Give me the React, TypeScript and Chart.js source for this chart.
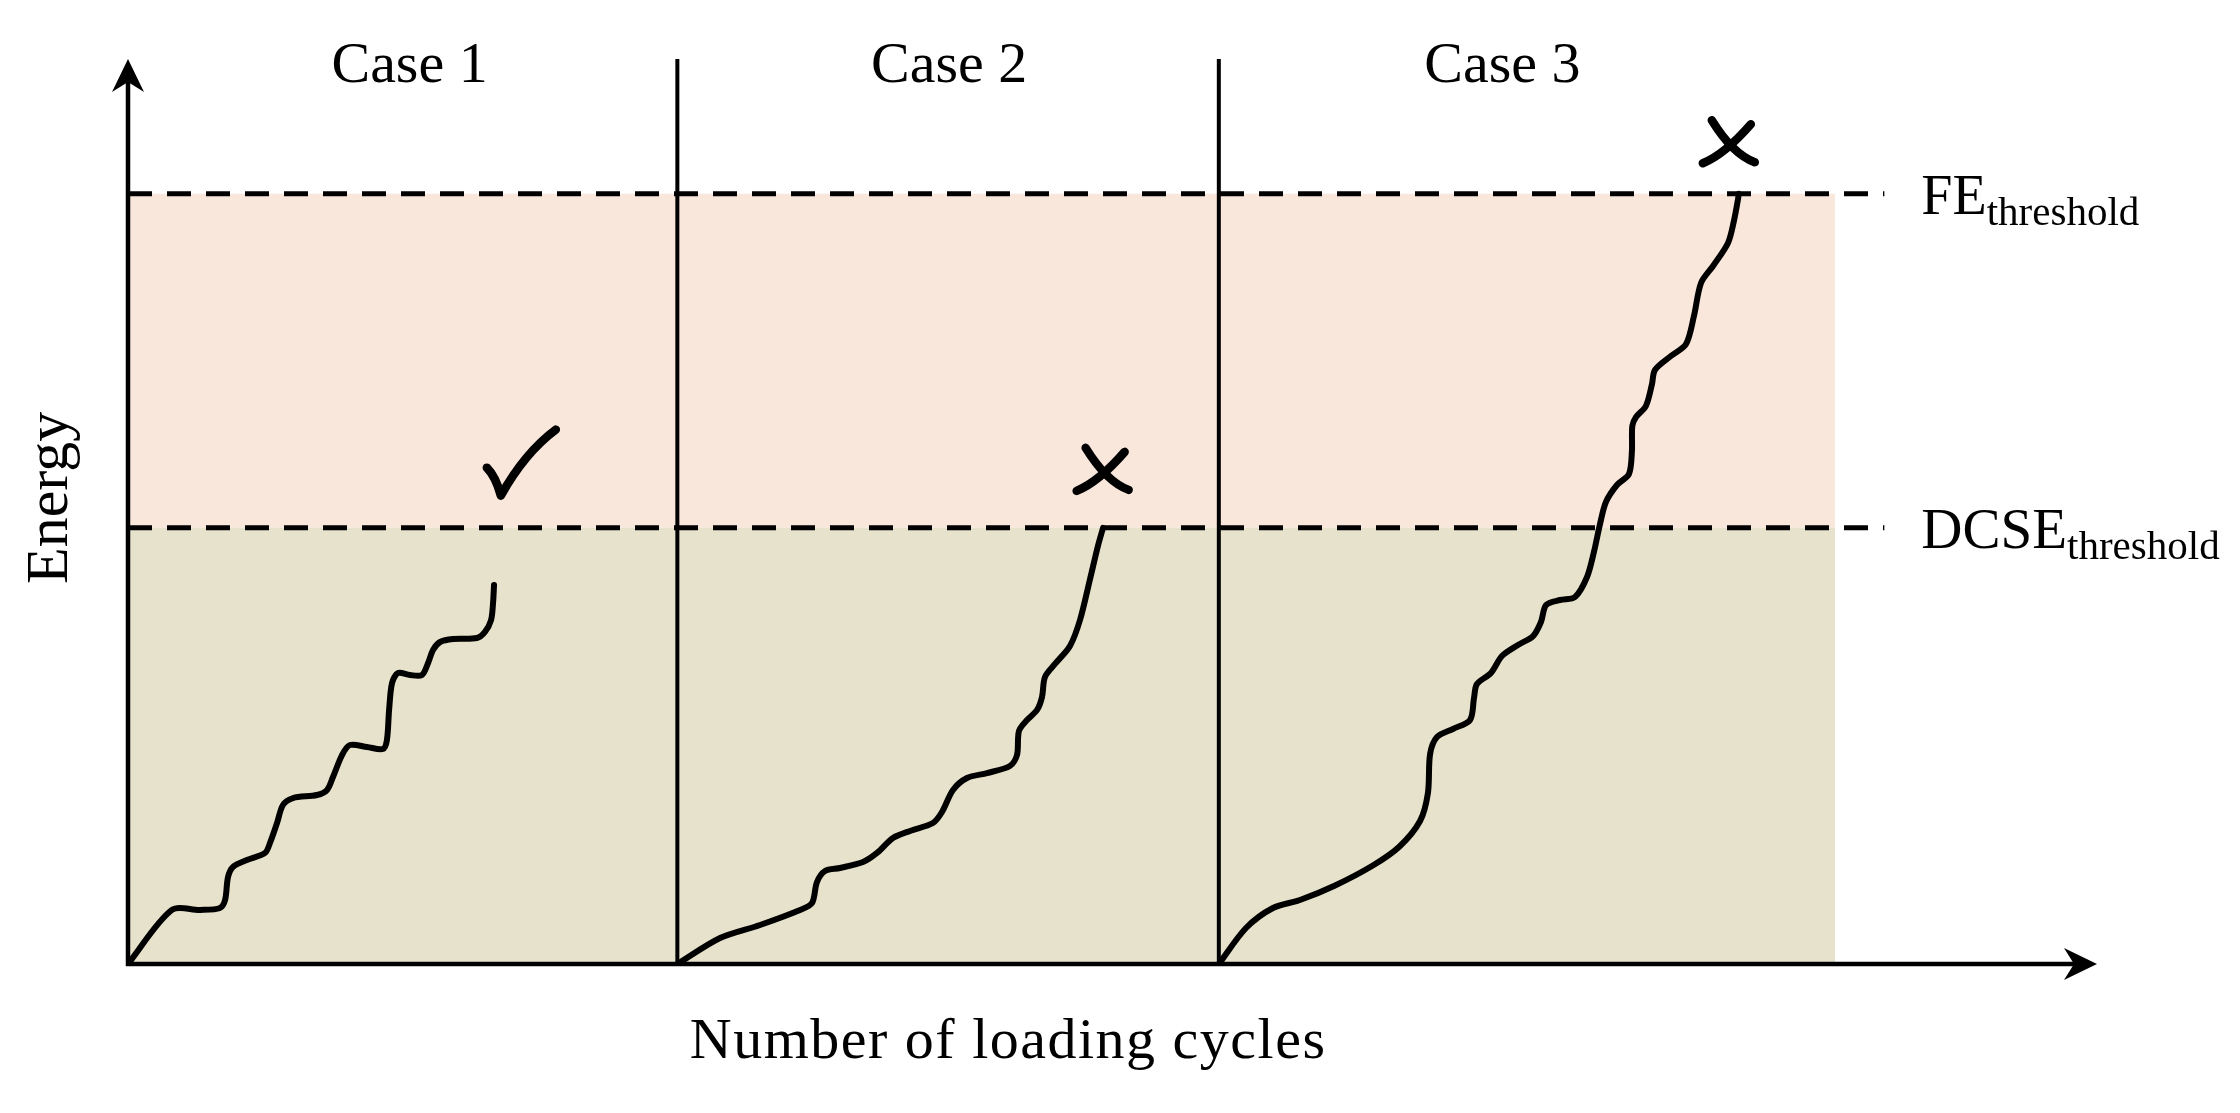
import React, { useEffect, useRef } from "react";
import { Chart, registerables } from "chart.js";

Chart.register(...registerables);

// ---- data (cycles on x, energy on y, both in arbitrary 0..100 units) ----
const caseLabels = ["Case 1", "Case 2", "Case 3"];
const caseLabelCenters = [14.3, 41.7, 69.8];
const caseStarts = [0, 27.9, 55.4];
const shadedEnd = 86.7;
const thresholdEnd = 89.2;
const feThreshold = 85.1;
const dcseThreshold = 48.2;
const axisMax = 100;

const case1Cycles = [0, 2.23, 3.66, 4.67, 4.93, 5.08, 5.33, 6.04, 6.96, 7.21, 7.57, 7.87, 8.38, 9.6, 10.11, 10.41, 10.87, 11.27, 12.14, 12.95, 13.15, 13.26, 13.41, 13.71, 14.32, 14.93, 15.24, 15.49, 15.85, 16.51, 17.72, 18.13, 18.44, 18.54, 18.59];
const case1Energy = [0, 5.97, 5.97, 6.19, 7.07, 9.61, 10.72, 11.49, 12.27, 13.37, 15.58, 17.57, 18.34, 18.67, 19.23, 20.66, 23.09, 24.2, 23.98, 23.76, 24.75, 28.07, 31.05, 32.15, 31.93, 31.93, 33.26, 34.7, 35.58, 35.91, 36.02, 36.69, 38.01, 39.89, 41.88];

const case2Cycles = [27.9, 30.07, 32.1, 34.13, 34.74, 34.99, 35.4, 36.16, 37.33, 38.04, 38.85, 39.72, 40.88, 41.34, 41.9, 42.61, 43.63, 44.79, 45.15, 45.25, 45.66, 46.17, 46.42, 46.57, 47.08, 47.84, 48.35, 48.86, 49.26, 49.52];
const case2Energy = [0, 2.87, 4.31, 5.97, 6.74, 9.06, 10.28, 10.61, 11.27, 12.27, 13.92, 14.7, 15.58, 16.8, 19.23, 20.55, 21.1, 21.88, 23.09, 25.75, 26.96, 28.07, 29.5, 31.71, 33.15, 35.14, 38.01, 42.54, 46.19, 48.2];

const case3Cycles = [55.4, 56.78, 58.15, 59.52, 61.25, 63.18, 64.55, 65.62, 66.02, 66.13, 66.48, 67.29, 68.16, 68.36, 68.51, 69.22, 69.78, 70.59, 71.36, 71.76, 72.02, 72.73, 73.49, 74.1, 74.45, 74.76, 75.06, 75.62, 76.23, 76.38, 76.4, 76.59, 77.09, 77.4, 77.55, 78.36, 79.13, 79.53, 79.89, 80.5, 81.26, 81.56, 81.77, 81.8];
const case3Energy = [0, 3.98, 6.19, 7.07, 8.62, 10.83, 12.93, 15.8, 18.9, 23.2, 25.08, 25.97, 26.96, 29.39, 30.94, 32.15, 34.03, 35.25, 36.24, 37.79, 39.67, 40.22, 40.55, 42.76, 45.52, 48.62, 51.05, 52.93, 54.14, 56.69, 59.45, 60.44, 61.66, 64.09, 65.64, 67.18, 68.51, 71.6, 75.25, 77.13, 79.67, 82.1, 84.53, 85.1];

const markerCycles = [19.9, 49.5, 81.3];
const markerEnergy = [55.4, 54.6, 90.8];
const markerKinds = ["check", "cross", "cross"];

const FONT = '"Liberation Serif", "Times New Roman", serif';
const PINK = "rgb(250,231,219)";
const KHAKI = "rgb(231,226,203)";

const toPoints = (xs: number[], ys: number[]) => xs.map((v, i) => ({ x: v, y: ys[i] }));

const decorPlugin = {
  id: "decor",
  afterDatasetsDraw(chart: any) {
    const { ctx } = chart;
    const xs = chart.scales.x;
    const ys = chart.scales.y;
    const x0 = xs.getPixelForValue(0);
    const y0 = ys.getPixelForValue(0);
    const xEnd = xs.getPixelForValue(axisMax);
    const yEnd = ys.getPixelForValue(axisMax);
    ctx.save();
    ctx.strokeStyle = "#000";
    ctx.fillStyle = "#000";
    ctx.lineWidth = 4.5;
    // y axis
    ctx.beginPath();
    ctx.moveTo(x0, y0 + 2);
    ctx.lineTo(x0, yEnd + 20);
    ctx.stroke();
    ctx.beginPath();
    ctx.moveTo(x0, yEnd);
    ctx.lineTo(x0 - 16, yEnd + 33);
    ctx.lineTo(x0, yEnd + 23);
    ctx.lineTo(x0 + 16, yEnd + 33);
    ctx.closePath();
    ctx.fill();
    // x axis
    ctx.beginPath();
    ctx.moveTo(x0 - 2, y0);
    ctx.lineTo(xEnd - 20, y0);
    ctx.stroke();
    ctx.beginPath();
    ctx.moveTo(xEnd, y0);
    ctx.lineTo(xEnd - 33, y0 - 16);
    ctx.lineTo(xEnd - 23, y0);
    ctx.lineTo(xEnd - 33, y0 + 16);
    ctx.closePath();
    ctx.fill();

    // case labels
    ctx.textAlign = "center";
    ctx.textBaseline = "alphabetic";
    ctx.font = `58px ${FONT}`;
    caseLabels.forEach((t, i) => {
      ctx.fillText(t, xs.getPixelForValue(caseLabelCenters[i]), yEnd + 23);
    });

    // x title
    ctx.font = `58px ${FONT}`;
    try { (ctx as any).letterSpacing = "1.5px"; } catch (e) {}
    ctx.fillText("Number of loading cycles", xs.getPixelForValue(44.7), y0 + 94);
    try { (ctx as any).letterSpacing = "0px"; } catch (e) {}

    // y title
    ctx.save();
    ctx.translate(x0 - 61, ys.getPixelForValue(51.5));
    ctx.rotate(-Math.PI / 2);
    ctx.font = `60px ${FONT}`;
    ctx.textAlign = "center";
    ctx.fillText("Energy", 0, 0);
    ctx.restore();

    // threshold labels
    const lx = xs.getPixelForValue(thresholdEnd) + 37;
    const drawSub = (main: string, sub: string, yv: number, size: number) => {
      const py = ys.getPixelForValue(yv) + 20;
      ctx.textAlign = "left";
      ctx.font = `${size}px ${FONT}`;
      ctx.fillText(main, lx, py);
      const w = ctx.measureText(main).width;
      ctx.font = `41px ${FONT}`;
      ctx.fillText(sub, lx + w, py + 11);
    };
    drawSub("FE", "threshold", feThreshold, 56);
    drawSub("DCSE", "threshold", dcseThreshold, 57);

    // markers
    ctx.lineCap = "round";
    ctx.lineJoin = "round";
    markerKinds.forEach((k, i) => {
      const cx = xs.getPixelForValue(markerCycles[i]);
      const cy = ys.getPixelForValue(markerEnergy[i]);
      if (k === "check") {
        ctx.lineWidth = 8.5;
        ctx.beginPath();
        ctx.moveTo(cx - 33, cy + 5);
        ctx.quadraticCurveTo(cx - 24, cy + 14, cx - 19, cy + 33);
        ctx.quadraticCurveTo(cx + 5, cy - 10, cx + 36, cy - 33);
        ctx.stroke();
      } else {
        ctx.lineWidth = 8.5;
        ctx.beginPath();
        ctx.moveTo(cx - 17, cy - 22);
        ctx.quadraticCurveTo(cx + 4, cy + 12, cx + 26, cy + 20);
        ctx.stroke();
        ctx.beginPath();
        ctx.moveTo(cx + 22, cy - 18);
        ctx.quadraticCurveTo(cx - 4, cy + 12, cx - 26, cy + 21);
        ctx.stroke();
      }
    });
    ctx.restore();
  },
};

export default function App() {
  const ref = useRef<HTMLCanvasElement | null>(null);

  useEffect(() => {
    if (!ref.current) return;
    const curveStyle = {
      borderColor: "#000",
      borderWidth: 6,
      tension: 0.3,
      pointRadius: 0,
      fill: false,
      borderCapStyle: "round" as const,
      borderJoinStyle: "round" as const,
      order: 0,
    };
    const dashStyle = {
      borderColor: "#000",
      borderWidth: 5,
      borderDash: [24, 15],
      pointRadius: 0,
      fill: false,
      tension: 0,
      order: 2,
    };
    const chart = new Chart(ref.current, {
      type: "line",
      data: {
        datasets: [
          { label: "Case 1", data: toPoints(case1Cycles, case1Energy), ...curveStyle },
          { label: "Case 2", data: toPoints(case2Cycles, case2Energy), ...curveStyle },
          { label: "Case 3", data: toPoints(case3Cycles, case3Energy), ...curveStyle },
          { label: "FE", data: [{ x: 0, y: feThreshold }, { x: thresholdEnd, y: feThreshold }], ...dashStyle },
          { label: "DCSE", data: [{ x: 0, y: dcseThreshold }, { x: thresholdEnd, y: dcseThreshold }], ...dashStyle },
          ...caseStarts.slice(1).map((c) => ({
            label: "divider",
            data: [{ x: c, y: 0 }, { x: c, y: axisMax }],
            borderColor: "#000",
            borderWidth: 4,
            pointRadius: 0,
            fill: false,
            tension: 0,
            order: 3,
          })),
          {
            label: "safe",
            data: [{ x: 0, y: dcseThreshold }, { x: shadedEnd, y: dcseThreshold }],
            borderColor: "rgba(0,0,0,0)",
            borderWidth: 1,
            backgroundColor: KHAKI,
            pointRadius: 0,
            fill: "origin",
            tension: 0,
            order: 5,
          },
          {
            label: "danger",
            data: [{ x: 0, y: feThreshold }, { x: shadedEnd, y: feThreshold }],
            borderColor: "rgba(0,0,0,0)",
            borderWidth: 1,
            backgroundColor: PINK,
            pointRadius: 0,
            fill: 7,
            tension: 0,
            order: 5,
          },
        ],
      },
      options: {
        responsive: false,
        animation: false,
        devicePixelRatio: 1,
        layout: { padding: { left: 128, right: 143, top: 59, bottom: 149 } },
        plugins: { legend: { display: false }, tooltip: { enabled: false } },
        scales: {
          x: { type: "linear", min: 0, max: axisMax, display: false },
          y: { type: "linear", min: 0, max: axisMax, display: false },
        },
      },
      plugins: [decorPlugin],
    });
    return () => chart.destroy();
  }, []);

  return (
    <div style={{ position: "fixed", left: 0, top: 0, width: 2240, height: 1113, background: "#fff" }}>
      <canvas ref={ref} width={2240} height={1113} style={{ display: "block" }} />
    </div>
  );
}
